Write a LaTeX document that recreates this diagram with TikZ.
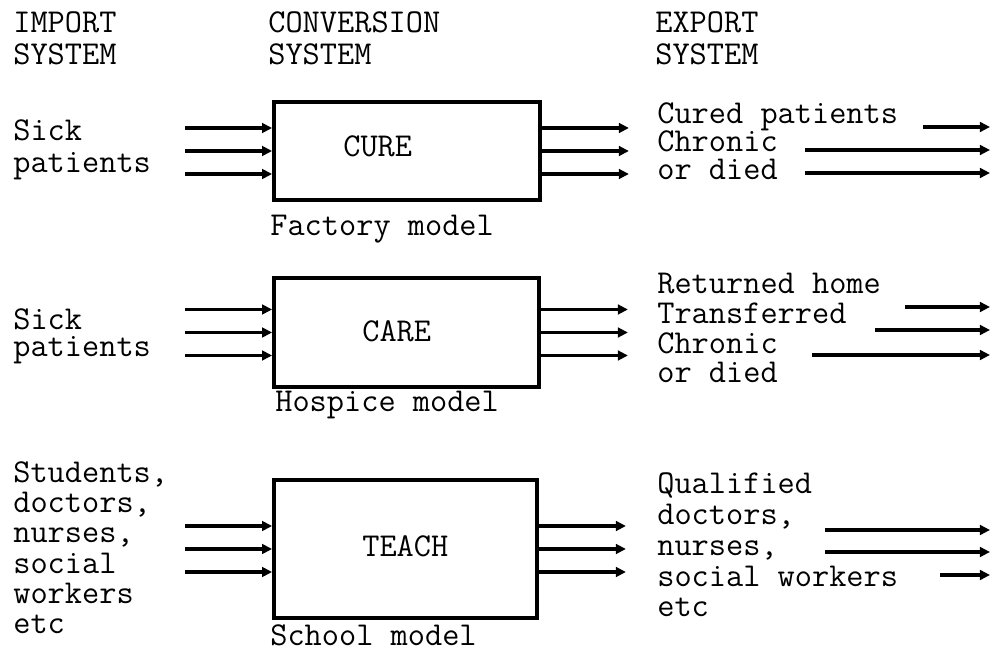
\documentclass[tikz,border=0pt]{standalone}
\usepackage{tikz}
\usetikzlibrary{arrows.meta,calc}

\begin{document}
\begin{tikzpicture}[x=0.02cm, y=-0.02cm,
  sysbox/.style={draw, line width=2.2pt, inner sep=0pt},
  txt/.style={font=\ttfamily\fontsize{19}{#1}\selectfont, align=left, inner sep=0pt, anchor=base west},
  txt/.default=18.7,
  flow/.style={-{Triangle[length=5.7pt,width=5.5pt]}, line width=1.8pt},
]
\useasboundingbox (0,0) rectangle (992,651);
% column headings (placed at the baseline of their last line)
\node[txt] (imp)  at (13,65)  {IMPORT\\SYSTEM};
\node[txt] (conv) at (268,65) {CONVERSION\\SYSTEM};
\node[txt] (expo) at (655,65) {EXPORT\\SYSTEM};
% the three conversion boxes
\node[sysbox, minimum width=5.32cm, minimum height=1.96cm] (cure)  at (407,151)   {};
\node[sysbox, minimum width=5.30cm, minimum height=2.18cm] (care)  at (406.5,332.5) {};
\node[sysbox, minimum width=5.26cm, minimum height=2.76cm] (teach) at (405.5,549) {};
\node[txt] (curelbl)  at (343,157) {CURE};
\node[txt] (carelbl)  at (362,342) {CARE};
\node[txt] (teachlbl) at (362,557) {TEACH};
\node[txt] (factory) at (270,236) {Factory model};
\node[txt] (hospice) at (275,412) {Hospice model};
\node[txt] (school)  at (270,646) {School model};
% imports
\node[txt] (in1) at (13,173) {Sick\\patients};
\node[txt=15.6] (in2) at (13,357) {Sick\\patients};
\node[txt=17.3] (in3) at (13,634) {Students,\\doctors,\\nurses,\\social\\workers\\etc};
% exports
\node[txt=16.2] (out1) at (657,180) {Cured patients\\Chronic\\or died};
\node[txt=17] (out2) at (657,383) {Returned home\\Transferred\\Chronic\\or died};
\node[txt=17.6] (out3) at (657,617) {Qualified\\doctors,\\nurses,\\social workers\\etc};
% flows into and out of each box
\foreach \b in {cure,care,teach}
  \foreach \d in {-23,0,23} {
    \draw[flow] ($(\b.west)+(-87,\d)$) -- ($(\b.west)+(0,\d)$);
    \draw[flow] ($(\b.east)+(0,\d)$) -- ($(\b.east)+(87,\d)$);
  }
% flows leaving the export system
\coordinate (rim) at (990,0);
\foreach \x/\y [count=\i] in {923/127, 805/150, 805/173, 905/307, 875/330, 812/355, 825/530, 825/552, 940/575} {
  \coordinate (ex\i) at (\x,\y);
  \draw[flow] (ex\i) -- (ex\i -| rim);
}
\end{tikzpicture}
\end{document}
